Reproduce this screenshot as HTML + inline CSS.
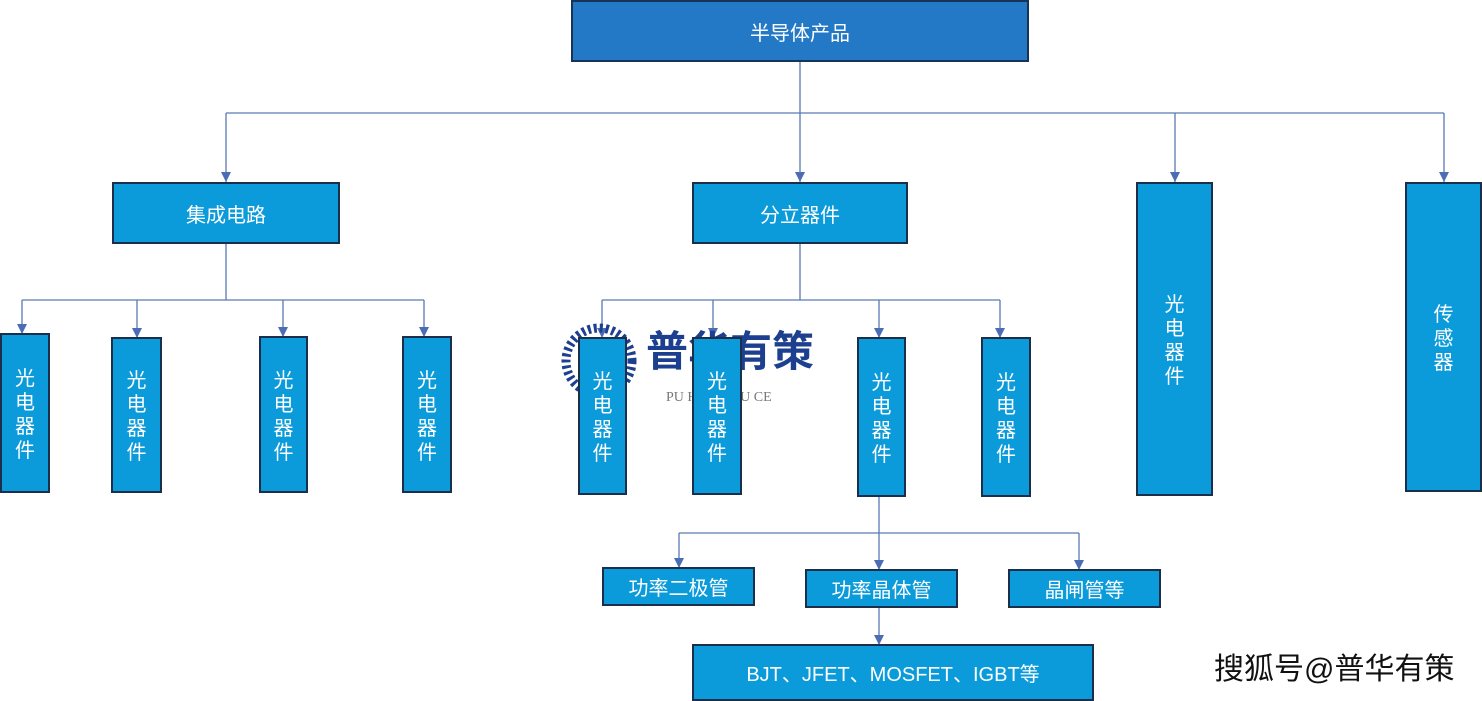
<!DOCTYPE html>
<html><head><meta charset="utf-8">
<style>
html,body{margin:0;padding:0;background:#fff;}
body{width:1482px;height:701px;position:relative;overflow:hidden;font-family:"Liberation Sans","Noto Sans CJK SC",sans-serif;}
.b{position:absolute;box-sizing:border-box;background:#0b9bdb;border:2px solid #1c2f4a;color:#fff;display:flex;align-items:center;justify-content:center;text-align:center;font-size:20px;}
.v{line-height:24px;font-size:20px;padding-top:4px;}
svg{position:absolute;left:0;top:0;}
</style></head><body>
<svg width="1482" height="701">
<defs><marker id="a" markerWidth="10" markerHeight="10" refX="10" refY="5" orient="auto" markerUnits="userSpaceOnUse"><path d="M0,0 L10,5 L0,10 Z" fill="#4a6db3"/></marker></defs>
<g stroke="#5a7ab5" stroke-width="1.3" fill="none">
<line x1="800" y1="61" x2="800" y2="113"/>
<line x1="226" y1="113" x2="1444" y2="113"/>
<line x1="226" y1="113" x2="226" y2="182" marker-end="url(#a)"/>
<line x1="800" y1="113" x2="800" y2="182" marker-end="url(#a)"/>
<line x1="1175" y1="113" x2="1175" y2="182" marker-end="url(#a)"/>
<line x1="1444" y1="113" x2="1444" y2="182" marker-end="url(#a)"/>
<line x1="226" y1="243" x2="226" y2="300"/>
<line x1="22" y1="300" x2="424" y2="300"/>
<line x1="22" y1="300" x2="22" y2="334" marker-end="url(#a)"/>
<line x1="137" y1="300" x2="137" y2="338" marker-end="url(#a)"/>
<line x1="283" y1="300" x2="283" y2="337" marker-end="url(#a)"/>
<line x1="424" y1="300" x2="424" y2="337" marker-end="url(#a)"/>
<line x1="800" y1="243" x2="800" y2="300"/>
<line x1="602" y1="300" x2="1000" y2="300"/>
<line x1="602" y1="300" x2="602" y2="338" marker-end="url(#a)"/>
<line x1="713" y1="300" x2="713" y2="338" marker-end="url(#a)"/>
<line x1="879" y1="300" x2="879" y2="338" marker-end="url(#a)"/>
<line x1="1000" y1="300" x2="1000" y2="338" marker-end="url(#a)"/>
<line x1="879" y1="496" x2="879" y2="533"/>
<line x1="679" y1="533" x2="1079" y2="533"/>
<line x1="679" y1="533" x2="679" y2="568" marker-end="url(#a)"/>
<line x1="879" y1="533" x2="879" y2="570" marker-end="url(#a)"/>
<line x1="1079" y1="533" x2="1079" y2="570" marker-end="url(#a)"/>
<line x1="879" y1="607" x2="879" y2="645" marker-end="url(#a)"/>
</g>
<g fill="#1d3f8f">
<circle cx="599" cy="361" r="33" fill="none" stroke="#1d3f8f" stroke-width="9" stroke-dasharray="3 3"/>
</g>
</svg>

<div style="position:absolute;left:646px;top:324px;font-size:42px;font-weight:bold;color:#1d3f8f;line-height:56px;">普华有策</div>
<div style="position:absolute;left:666px;top:390px;font-size:14px;color:#777;font-family:'Liberation Serif',serif;">PU HUA YOU CE</div>

<div class="b" style="left:571px;top:0;width:458px;height:62px;background:#2479c7;border-color:#173456;">半导体产品</div>
<div class="b" style="left:112px;top:182px;width:228px;height:62px;">集成电路</div>
<div class="b" style="left:692px;top:182px;width:216px;height:62px;">分立器件</div>
<div class="b v" style="left:1136px;top:182px;width:77px;height:314px;">光<br>电<br>器<br>件</div>
<div class="b v" style="left:1405px;top:182px;width:77px;height:310px;">传<br>感<br>器</div>

<div class="b v" style="left:0;top:333px;width:50px;height:160px;">光<br>电<br>器<br>件</div>
<div class="b v" style="left:111px;top:337px;width:51px;height:156px;">光<br>电<br>器<br>件</div>
<div class="b v" style="left:259px;top:336px;width:49px;height:157px;">光<br>电<br>器<br>件</div>
<div class="b v" style="left:402px;top:336px;width:50px;height:157px;">光<br>电<br>器<br>件</div>

<div class="b v" style="left:578px;top:337px;width:49px;height:158px;">光<br>电<br>器<br>件</div>
<div class="b v" style="left:692px;top:337px;width:50px;height:158px;">光<br>电<br>器<br>件</div>
<div class="b v" style="left:857px;top:337px;width:49px;height:160px;">光<br>电<br>器<br>件</div>
<div class="b v" style="left:981px;top:337px;width:50px;height:160px;">光<br>电<br>器<br>件</div>

<div class="b" style="left:602px;top:567px;width:153px;height:39px;">功率二极管</div>
<div class="b" style="left:805px;top:569px;width:153px;height:39px;">功率晶体管</div>
<div class="b" style="left:1008px;top:569px;width:153px;height:39px;">晶闸管等</div>
<div class="b" style="left:692px;top:644px;width:402px;height:57px;">BJT、JFET、MOSFET、IGBT等</div>

<div style="position:absolute;left:1214px;top:650px;font-size:30px;color:#111;text-shadow:1px 1px 0 #fff,-1px -1px 0 #fff;line-height:40px;">搜狐号@普华有策</div>
</body></html>
